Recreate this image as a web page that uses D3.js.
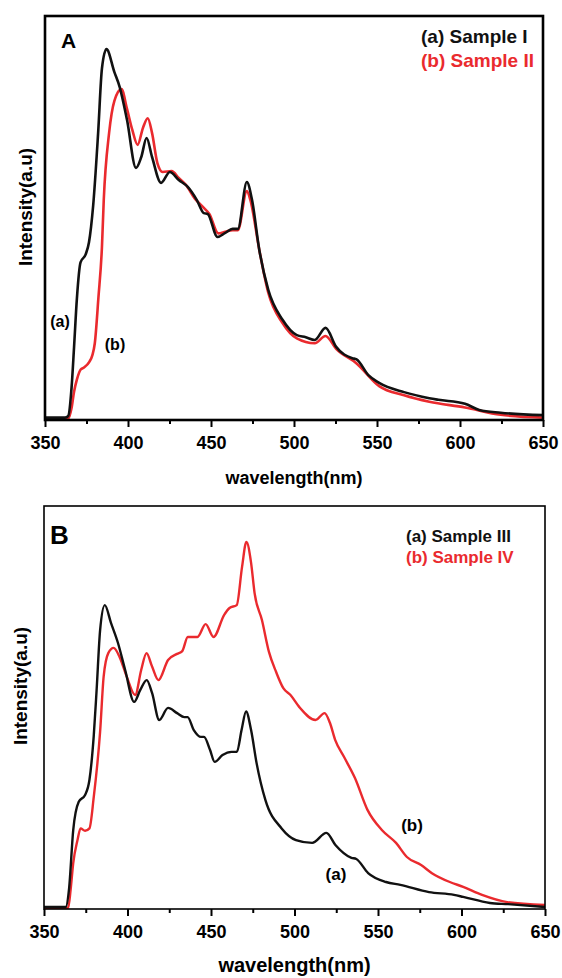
<!DOCTYPE html>
<html>
<head>
<meta charset="utf-8">
<script src="https://cdn.jsdelivr.net/npm/d3@7"></script>
<style>
  body { margin: 0; background: #fff; }
  text { font-family: "Liberation Sans", Arial, sans-serif; font-weight: bold; }
</style>
</head>
<body>
<div id="chart"></div>
<script>
// wavelength (nm), relative intensity
const sampleI = [[350,0.006],[362,0.006],[364,0.01],[366,0.08],[367.5,0.18],[369.2,0.3],[371.4,0.39],[374.5,0.41],[376.5,0.44],[379,0.53],[382,0.71],[384.3,0.87],[387,0.918],[391.8,0.861],[395,0.824],[399.4,0.743],[404.8,0.624],[408,0.651],[411.2,0.698],[414.5,0.651],[419.9,0.587],[425.2,0.614],[430.6,0.594],[436,0.577],[441.4,0.545],[445.7,0.512],[448,0.51],[453.9,0.453],[458.6,0.463],[463,0.473],[466.2,0.473],[471.6,0.589],[474.7,0.545],[479.1,0.421],[484.5,0.322],[493.1,0.248],[501.7,0.21],[507.1,0.205],[512.5,0.198],[519,0.228],[525.4,0.181],[535.1,0.153],[537.7,0.15],[544.8,0.111],[551.3,0.092],[566.3,0.069],[581.5,0.054],[587,0.05],[603,0.04],[611.6,0.025],[624.5,0.018],[650,0.012]];
const sampleII = [[350,0.004],[364,0.004],[366,0.03],[367.5,0.07],[369.2,0.1],[371.5,0.125],[373.5,0.13],[376.7,0.144],[378.5,0.16],[380,0.19],[382.2,0.304],[384.3,0.428],[385.4,0.545],[388.6,0.71],[391.8,0.79],[396.1,0.819],[399.4,0.77],[402.6,0.718],[405.8,0.681],[409,0.723],[411.9,0.747],[414.5,0.71],[417.7,0.636],[420.9,0.614],[426.3,0.616],[430.6,0.599],[434.9,0.582],[440.3,0.548],[445.7,0.525],[449,0.51],[454.4,0.462],[458.6,0.466],[463,0.47],[466.2,0.47],[471.6,0.567],[473.7,0.545],[479.1,0.421],[484.5,0.315],[493.1,0.24],[501.7,0.202],[512.5,0.19],[519,0.208],[525.4,0.176],[537.7,0.14],[551.3,0.084],[566.3,0.061],[581.5,0.045],[603,0.031],[624.5,0.013],[650,0.006]];
const sampleIII = [[350,0.005],[363,0.005],[365,0.05],[367.5,0.196],[370.8,0.266],[374.6,0.283],[377.2,0.32],[379.8,0.43],[381.5,0.543],[383.6,0.692],[386.4,0.754],[390.1,0.71],[394.3,0.66],[398.6,0.593],[404,0.514],[407.6,0.543],[411.5,0.568],[414.7,0.536],[419,0.469],[424.3,0.499],[429.7,0.486],[434,0.476],[436,0.476],[439.7,0.444],[444,0.427],[445.8,0.427],[449.4,0.395],[452.2,0.365],[456.9,0.382],[462.3,0.39],[465.5,0.39],[468.3,0.444],[471,0.49],[474,0.444],[477.3,0.362],[482.6,0.27],[492.3,0.2],[500.9,0.171],[510.6,0.164],[519.1,0.189],[524.5,0.159],[534.1,0.127],[537,0.124],[544.1,0.089],[554.8,0.067],[563.4,0.06],[580.5,0.042],[595.5,0.035],[601,0.03],[617,0.015],[628,0.012],[650,0.005]];
const sampleIV = [[350,0.003],[364.5,0.003],[366,0.05],[367.5,0.114],[370,0.17],[371.9,0.2],[374.6,0.194],[377.2,0.2],[379.8,0.278],[383.6,0.44],[385.7,0.576],[388.5,0.635],[391.7,0.648],[395.3,0.625],[399.6,0.576],[404.6,0.531],[408.2,0.593],[411.4,0.635],[414.6,0.603],[418.5,0.568],[424.3,0.618],[429.7,0.633],[432.8,0.64],[436.1,0.675],[441.9,0.675],[446.8,0.707],[451.5,0.675],[457.9,0.73],[461.1,0.747],[465.4,0.754],[468.6,0.849],[471.2,0.911],[474,0.859],[476.1,0.784],[480.5,0.717],[484.7,0.638],[489,0.588],[493.3,0.548],[497.6,0.531],[502.9,0.501],[512.6,0.469],[518,0.486],[521.2,0.462],[524.4,0.419],[529.7,0.377],[536.2,0.325],[543.7,0.246],[552.3,0.196],[560.8,0.164],[567.3,0.129],[575.8,0.109],[582.3,0.089],[593,0.067],[601,0.055],[612.3,0.035],[627.4,0.017],[650,0.01]];

const majorTicks = [350, 400, 450, 500, 550, 600, 650];
const minorTicks = [375, 425, 475, 525, 575, 625];
const panelLetters = ["A", "B"];
const legendA = ["(a) Sample I", "(b) Sample II"];
const legendB = ["(a) Sample III", "(b) Sample IV"];
const curveLabels = ["(a)", "(b)"];
const xTitle = "wavelength(nm)";
const yTitle = "Intensity(a.u)";

const black = "#111111", red = "#ea2a2e";

const svg = d3.select("#chart").append("svg")
    .attr("width", 562)
    .attr("height", 978);

const drawPanel = function(cfg) {
    const x = d3.scaleLinear().domain([350, 650]).range([cfg.left, cfg.right]);
    const y = d3.scaleLinear().domain([0, 1]).range([cfg.bottom, cfg.top]);
    const g = svg.append("g");

    const line = d3.line()
        .x(d => x(d[0]))
        .y(d => y(d[1]))
        .curve(d3.curveMonotoneX);

    // red drawn first, black above where they overlap
    cfg.series.slice().reverse().forEach(s => {
        g.append("path")
            .datum(s.data)
            .attr("d", line)
            .attr("fill", "none")
            .attr("stroke", s.color)
            .attr("stroke-width", cfg.lineWidth)
            .attr("stroke-linejoin", "round");
    });

    const major = g.append("g")
        .attr("transform", "translate(0," + cfg.bottom + ")")
        .call(d3.axisBottom(x).tickValues(majorTicks).tickSize(7).tickPadding(9).tickFormat(d3.format("d")));
    major.select(".domain").remove();
    major.selectAll("line").attr("stroke", "#000").attr("stroke-width", 2);
    major.selectAll("text")
        .attr("fill", "#000")
        .style("font-size", "18px");

    const minor = g.append("g")
        .attr("transform", "translate(0," + cfg.bottom + ")")
        .call(d3.axisBottom(x).tickValues(minorTicks).tickSize(4).tickFormat(""));
    minor.select(".domain").remove();
    minor.selectAll("line").attr("stroke", "#000").attr("stroke-width", 2);

    g.append("rect")
        .attr("x", cfg.left)
        .attr("y", cfg.top)
        .attr("width", cfg.right - cfg.left)
        .attr("height", cfg.bottom - cfg.top)
        .attr("fill", "none")
        .attr("stroke", "#000")
        .attr("stroke-width", cfg.frameWidth);

    g.append("text")
        .attr("x", (cfg.left + cfg.right) / 2)
        .attr("y", cfg.xTitleY)
        .attr("text-anchor", "middle")
        .style("font-size", cfg.xTitleSize + "px")
        .text(xTitle);

    g.append("text")
        .attr("transform", "translate(" + cfg.yTitleX + "," + cfg.yTitleY + ") rotate(-90)")
        .attr("text-anchor", "middle")
        .attr("dy", "0.35em")
        .style("font-size", "19px")
        .text(yTitle);

    g.append("text")
        .attr("x", cfg.letterX)
        .attr("y", cfg.letterY)
        .style("font-size", cfg.letterSize + "px")
        .text(cfg.letter);

    cfg.legend.forEach((t, i) => {
        g.append("text")
            .attr("x", cfg.legendX)
            .attr("y", cfg.legendY + i * cfg.legendGap)
            .attr("fill", i === 0 ? black : red)
            .style("font-size", cfg.legendSize + "px")
            .text(t);
    });

    cfg.labels.forEach((p, i) => {
        g.append("text")
            .attr("x", p[0])
            .attr("y", p[1])
            .attr("text-anchor", "middle")
            .attr("dy", "0.35em")
            .style("font-size", cfg.labelSize + "px")
            .text(curveLabels[i]);
    });
};

drawPanel({
    left: 45, right: 543, top: 16, bottom: 420,
    series: [{data: sampleI, color: black}, {data: sampleII, color: red}],
    lineWidth: 2.6, frameWidth: 2.6,
    xTitleY: 484, xTitleSize: 18,
    yTitleX: 25, yTitleY: 207,
    letter: panelLetters[0], letterX: 61, letterY: 48, letterSize: 21,
    legend: legendA, legendX: 421, legendY: 43, legendGap: 24, legendSize: 19,
    labels: [[60, 321], [115, 344]], labelSize: 16
});

drawPanel({
    left: 44, right: 545, top: 506, bottom: 909,
    series: [{data: sampleIII, color: black}, {data: sampleIV, color: red}],
    lineWidth: 2.4, frameWidth: 1.6,
    xTitleY: 972, xTitleSize: 20,
    yTitleX: 20, yTitleY: 686,
    letter: panelLetters[1], letterX: 50, letterY: 544, letterSize: 26,
    legend: legendB, legendX: 406, legendY: 542, legendGap: 21, legendSize: 17,
    labels: [[336, 874], [412, 825]], labelSize: 17
});
</script>
</body>
</html>
